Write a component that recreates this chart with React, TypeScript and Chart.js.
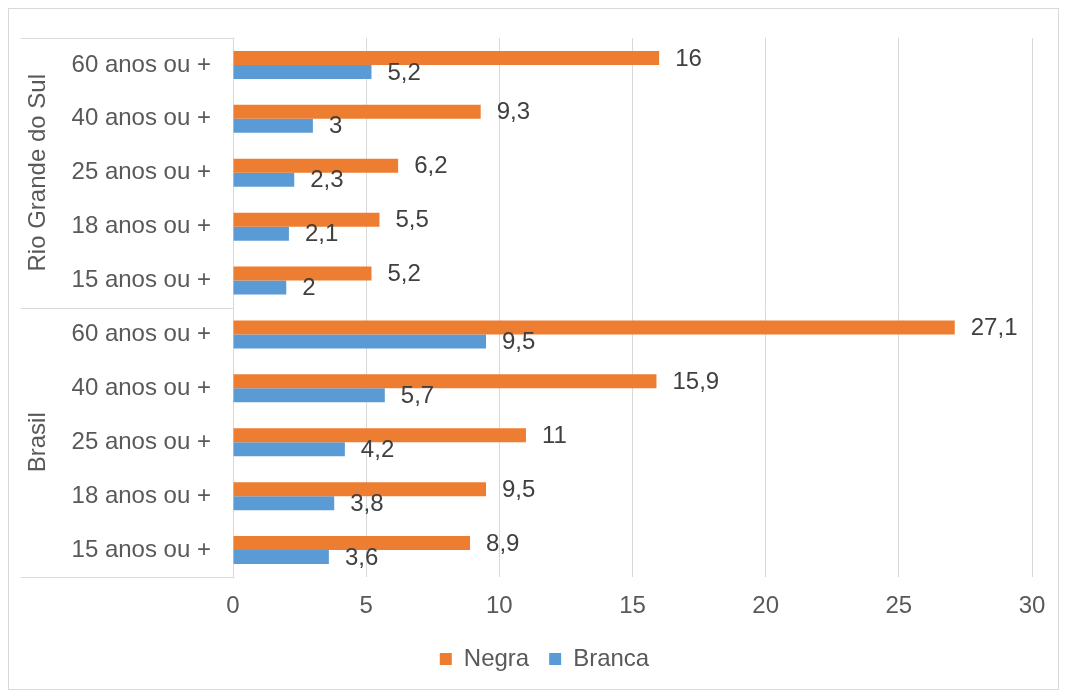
import React, { useEffect, useRef } from "react";
import { Chart, registerables } from "chart.js";

Chart.register(...registerables);

const categories = [
  "60 anos ou +",
  "40 anos ou +",
  "25 anos ou +",
  "18 anos ou +",
  "15 anos ou +",
  "60 anos ou +",
  "40 anos ou +",
  "25 anos ou +",
  "18 anos ou +",
  "15 anos ou +",
];
const groups = ["Rio Grande do Sul", "Brasil"];
const groupSizes = [5, 5];
const negra = [16, 9.3, 6.2, 5.5, 5.2, 27.1, 15.9, 11, 9.5, 8.9];
const branca = [5.2, 3, 2.3, 2.1, 2, 9.5, 5.7, 4.2, 3.8, 3.6];
const xTicks = [0, 5, 10, 15, 20, 25, 30];
const seriesNames = ["Negra", "Branca"];

const FONT = "'Liberation Sans', Arial, sans-serif";
const FONT_SIZE = 24;
const TEXT = "#595959";
const LABEL = "#404040";
const GRID = "#d9d9d9";

const groupAxisPlugin = {
  id: "groupAxis",
  afterLayout(chart: any) {
    if (chart.legend) {
      chart.legend.left += 24;
      chart.legend.right += 24;
    }
  },
  afterDraw(chart: any) {
    const { ctx, chartArea } = chart;
    const y = chart.scales.y;
    const lineLeft = 12;
    const labelX = 29;
    ctx.save();
    ctx.strokeStyle = GRID;
    ctx.lineWidth = 1;
    const bounds: number[] = [];
    let cum = 0;
    bounds.push(y.getPixelForValue(-0.5));
    groupSizes.forEach((n) => {
      cum += n;
      bounds.push(y.getPixelForValue(cum - 0.5));
    });
    bounds.forEach((b) => {
      const yy = Math.round(b) + 0.5;
      ctx.beginPath();
      ctx.moveTo(lineLeft, yy);
      ctx.lineTo(chartArea.left, yy);
      ctx.stroke();
    });
    ctx.fillStyle = TEXT;
    ctx.font = `${FONT_SIZE}px ${FONT}`;
    ctx.textAlign = "center";
    ctx.textBaseline = "middle";
    groups.forEach((g, i) => {
      const mid = (bounds[i] + bounds[i + 1]) / 2;
      ctx.save();
      ctx.translate(labelX, mid);
      ctx.rotate(-Math.PI / 2);
      ctx.fillText(g, 0, 0);
      ctx.restore();
    });
    ctx.restore();
  },
};

const dataLabelPlugin = {
  id: "dataLabels",
  afterDatasetsDraw(chart: any) {
    const { ctx } = chart;
    ctx.save();
    ctx.fillStyle = LABEL;
    ctx.font = `${FONT_SIZE}px ${FONT}`;
    ctx.textAlign = "left";
    ctx.textBaseline = "middle";
    chart.data.datasets.forEach((ds: any, di: number) => {
      const meta = chart.getDatasetMeta(di);
      meta.data.forEach((el: any, i: number) => {
        const v = ds.data[i];
        const txt = String(v).replace(".", ",");
        ctx.fillText(txt, el.x + 16, el.y + 1);
      });
    });
    ctx.restore();
  },
};

function BarChart() {
  const ref = useRef<HTMLCanvasElement>(null);
  useEffect(() => {
    document.documentElement.style.overflow = "hidden";
    const canvas = ref.current!;
    const chart = new Chart(canvas, {
      type: "bar",
      data: {
        labels: categories,
        datasets: [
          {
            label: seriesNames[0],
            data: negra,
            backgroundColor: "#ED7D31",
            categoryPercentage: 0.52,
            barPercentage: 1.0,
          },
          {
            label: seriesNames[1],
            data: branca,
            backgroundColor: "#5B9BD5",
            categoryPercentage: 0.52,
            barPercentage: 1.0,
          },
        ],
      },
      options: {
        indexAxis: "y",
        animation: false,
        responsive: false,
        maintainAspectRatio: false,
        layout: { padding: { top: 29, right: 26, left: 0, bottom: 8 } },
        scales: {
          x: {
            min: 0,
            max: 30,
            afterBuildTicks: (scale: any) => {
              scale.ticks = xTicks.map((v) => ({ value: v }));
            },
            afterFit: (scale: any) => {
              scale.height = 50;
              scale.paddingLeft = 0;
              scale.paddingRight = 0;
            },
            grid: { color: GRID, lineWidth: 1, drawTicks: false },
            border: { display: false },
            ticks: {
              padding: 15,
              color: TEXT,
              font: { family: FONT, size: FONT_SIZE },
              maxRotation: 0,
            },
          },
          y: {
            afterFit: (scale: any) => {
              scale.width = 224;
              scale.paddingTop = 0;
              scale.paddingBottom = 0;
            },
            grid: { display: false, drawTicks: false },
            border: { display: true, color: GRID, width: 1 },
            ticks: {
              padding: 22,
              color: TEXT,
              font: { family: FONT, size: FONT_SIZE },
              autoSkip: false,
            },
          },
        },
        plugins: {
          legend: {
            position: "bottom",
            labels: {
              boxWidth: 12,
              boxHeight: 12,
              padding: 20,
              color: TEXT,
              font: { family: FONT, size: FONT_SIZE },
            },
          },
          tooltip: { enabled: false },
        },
      },
      plugins: [groupAxisPlugin, dataLabelPlugin],
    } as any);
    return () => chart.destroy();
  }, []);
  return <canvas ref={ref} width={1049} height={680} style={{ display: "block" }} />;
}

export default function App() {
  return (
    <div
      style={{
        width: 1051,
        height: 682,
        border: "1px solid #d9d9d9",
        boxSizing: "border-box",
        background: "#fff",
      }}
    >
      <BarChart />
    </div>
  );
}
